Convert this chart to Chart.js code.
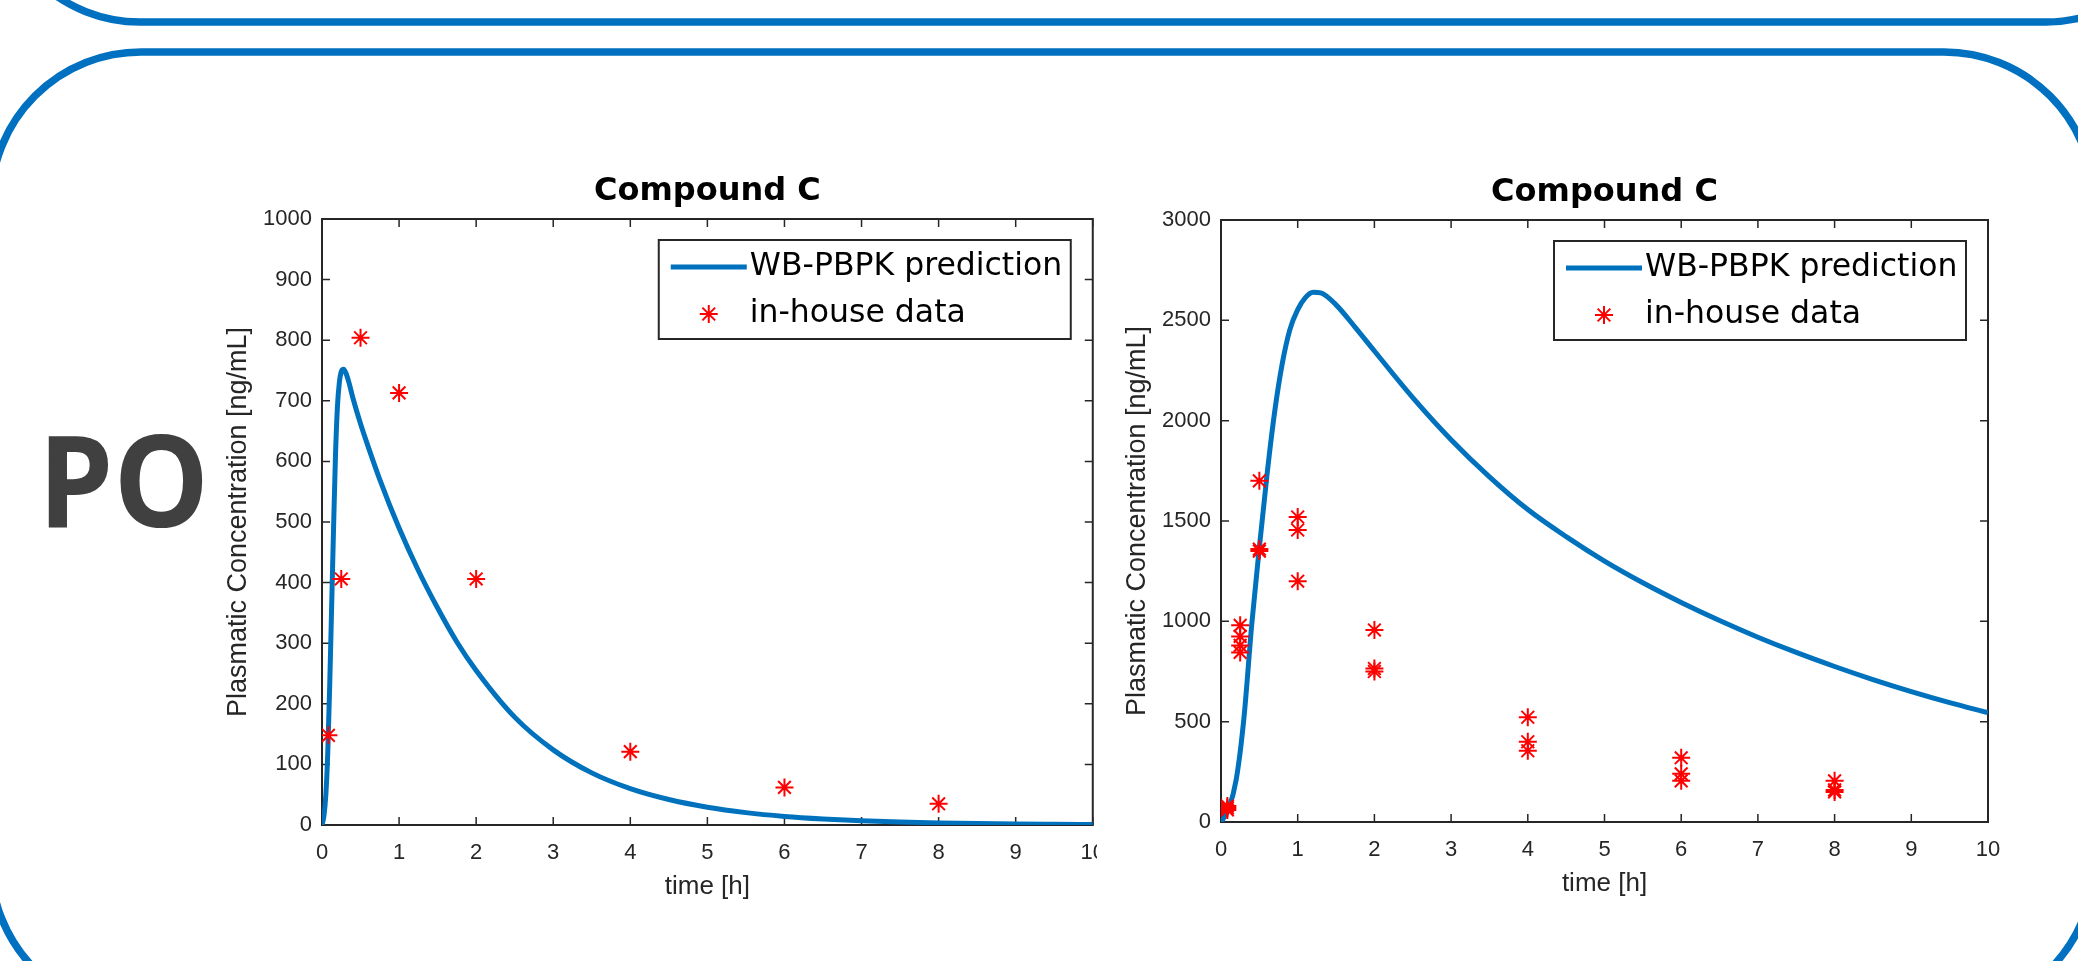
<!DOCTYPE html>
<html>
<head>
<meta charset="utf-8">
<title>Compound C - PO</title>
<script src="https://cdn.jsdelivr.net/npm/chart.js@4.4.1/dist/chart.umd.min.js"></script>
<style>
  html, body { margin: 0; padding: 0; background: #fff; }
  body { width: 2078px; height: 961px; position: relative; overflow: hidden; }
  #frame { position: absolute; left: 0; top: 0; }
  #boxA { position: absolute; left: 200px; top: 150px; width: 897px; height: 780px; overflow: hidden; }
  #boxB { position: absolute; left: 1099px; top: 151px; width: 920px; height: 776px; }
  canvas { display: block; }
</style>
</head>
<body>
<svg id="frame" width="2078" height="961">
  <rect x="-7" y="-300" width="2200" height="322" rx="147" ry="147" fill="none" stroke="#0070C0" stroke-width="7.5"/>
  <rect x="-9" y="52" width="2103" height="961" rx="150" ry="150" fill="none" stroke="#0070C0" stroke-width="7.5"/>
  <text x="38" y="527" font-family="Open Sans" font-weight="700" font-size="128" fill="#404040"
        textLength="171" lengthAdjust="spacingAndGlyphs">PO</text>
</svg>
<div id="boxA"><canvas id="chartA" width="920" height="780"></canvas></div>
<div id="boxB"><canvas id="chartB" width="920" height="776"></canvas></div>
<script>
// axis ticks
const timeTicks = [0, 1, 2, 3, 4, 5, 6, 7, 8, 9, 10];
const concTicksA = [0, 100, 200, 300, 400, 500, 600, 700, 800, 900, 1000];
const concTicksB = [0, 500, 1000, 1500, 2000, 2500, 3000];

// left panel: WB-PBPK prediction
const predTimeA = [0, 0.025, 0.05, 0.075, 0.1, 0.125, 0.15, 0.175, 0.2, 0.225, 0.25, 0.28, 0.31, 0.35, 0.4,
  0.5, 0.6, 0.75, 1, 1.25, 1.5, 1.75, 2, 2.5, 3, 3.5, 4, 4.5, 5, 5.5, 6, 6.5, 7, 7.5, 8, 8.5, 9, 9.5, 10];
const predConcA = [0, 15, 50, 120, 230, 360, 490, 610, 690, 730, 748, 752, 746, 730, 705,
  662, 624, 570, 490, 420, 358, 302, 255, 178, 124, 86, 60, 42, 29.3, 20.4, 14.2, 10, 7, 4.9, 3.5, 2.5, 1.8, 1.3, 0.9];
// left panel: in-house data
const obsTimeA = [0.083, 0.25, 0.5, 1, 2, 4, 6, 8];
const obsConcA = [148, 406, 804, 713, 406, 121, 62, 35];

// right panel: WB-PBPK prediction
const predTimeB = [0, 0.1, 0.2, 0.3, 0.4, 0.5, 0.6, 0.7, 0.8, 0.9, 1, 1.1, 1.2, 1.3, 1.5, 1.75,
  2, 2.5, 3, 3.5, 4, 4.5, 5, 5.5, 6, 6.5, 7, 7.5, 8, 8.5, 9, 9.5, 10];
const predConcB = [0, 65, 215, 522, 981, 1368, 1731, 2045, 2287, 2456, 2553, 2613, 2640, 2637, 2577, 2465,
  2347, 2115, 1905, 1720, 1557, 1422, 1300, 1192, 1094, 1004, 921, 845, 775, 710, 650, 595, 545];
// right panel: in-house data
const obsTimeB = [0.083, 0.083, 0.083, 0.25, 0.25, 0.25, 0.25, 0.5, 0.5, 0.5, 1, 1, 1,
  2, 2, 2, 4, 4, 4, 6, 6, 6, 8, 8, 8];
const obsConcB = [60, 70, 80, 980, 925, 880, 845, 1700, 1360, 1350, 1520, 1455, 1200,
  957, 765, 750, 522, 400, 355, 320, 240, 205, 205, 160, 150];

const axisColor = "#262626";
const lineBlue = "#0072BD";
const starRed = "#FF0000";

function toPoints(xs, ys) {
  return xs.map((x, i) => ({ x: x, y: ys[i] }));
}

function drawStar(ctx, x, y, r) {
  const d = r * Math.SQRT1_2;
  ctx.beginPath();
  ctx.moveTo(x - r, y); ctx.lineTo(x + r, y);
  ctx.moveTo(x, y - r); ctx.lineTo(x, y + r);
  ctx.moveTo(x - d, y - d); ctx.lineTo(x + d, y + d);
  ctx.moveTo(x - d, y + d); ctx.lineTo(x + d, y - d);
  ctx.stroke();
}

// matlab-like box, inward ticks, title and legend
const matlabBox = {
  id: "matlabBox",
  beforeDatasetsDraw(chart) {
    const { ctx, chartArea: a, scales: { x, y } } = chart;
    ctx.save();
    ctx.strokeStyle = axisColor;
    ctx.lineWidth = 1.5;
    ctx.beginPath();
    x.ticks.forEach((t) => {
      const px = x.getPixelForValue(t.value);
      ctx.moveTo(px, a.bottom); ctx.lineTo(px, a.bottom - 8);
      ctx.moveTo(px, a.top); ctx.lineTo(px, a.top + 8);
    });
    y.ticks.forEach((t) => {
      const py = y.getPixelForValue(t.value);
      ctx.moveTo(a.left, py); ctx.lineTo(a.left + 8, py);
      ctx.moveTo(a.right, py); ctx.lineTo(a.right - 8, py);
    });
    ctx.stroke();
    ctx.lineWidth = 2;
    ctx.strokeRect(a.left, a.top, a.right - a.left, a.bottom - a.top);
    ctx.restore();
  },
  afterDraw(chart, args, opts) {
    const { ctx, chartArea: a } = chart;
    ctx.save();
    // title
    ctx.fillStyle = "#000";
    ctx.font = 'bold 32px "DejaVu Sans"';
    ctx.textAlign = "center";
    ctx.textBaseline = "alphabetic";
    ctx.fillText(opts.title, (a.left + a.right) / 2, a.top - 19);

    // legend box
    const w = 412, h = 99;
    const lx = a.right - 22 - w, ly = a.top + 21;
    ctx.fillStyle = "#fff";
    ctx.fillRect(lx, ly, w, h);
    ctx.strokeStyle = axisColor;
    ctx.lineWidth = 2;
    ctx.strokeRect(lx, ly, w, h);

    const line = chart.data.datasets[0];
    const pts = chart.data.datasets[1];
    ctx.strokeStyle = line.borderColor;
    ctx.lineWidth = line.borderWidth;
    ctx.beginPath();
    ctx.moveTo(lx + 12, ly + 27);
    ctx.lineTo(lx + 88, ly + 27);
    ctx.stroke();

    ctx.strokeStyle = pts.pointBorderColor;
    ctx.lineWidth = pts.pointBorderWidth;
    drawStar(ctx, lx + 50, ly + 74, pts.pointRadius);

    ctx.fillStyle = "#000";
    ctx.font = '31.5px "DejaVu Sans"';
    ctx.textAlign = "left";
    ctx.textBaseline = "middle";
    ctx.fillText(line.label, lx + 91, ly + 27);
    ctx.fillText(pts.label, lx + 91, ly + 74);
    ctx.restore();
  },
};

function makeChart(id, predT, predC, obsT, obsC, yTicks, padRight) {
  return new Chart(document.getElementById(id), {
    type: "scatter",
    data: {
      datasets: [
        {
          label: "WB-PBPK prediction",
          data: toPoints(predT, predC),
          showLine: true,
          borderColor: lineBlue,
          borderWidth: 5,
          pointRadius: 0,
          cubicInterpolationMode: "monotone",
          order: 2,
        },
        {
          label: "in-house data",
          data: toPoints(obsT, obsC),
          showLine: false,
          pointStyle: "star",
          pointRadius: 9,
          pointBorderColor: starRed,
          pointBackgroundColor: starRed,
          pointBorderWidth: 2,
          order: 1,
        },
      ],
    },
    options: {
      responsive: false,
      animation: false,
      devicePixelRatio: 1,
      layout: { padding: { top: 69, right: padRight, left: 0, bottom: 0 } },
      plugins: {
        legend: { display: false },
        tooltip: { enabled: false },
        matlabBox: { title: "Compound C" },
      },
      scales: {
        x: {
          type: "linear",
          min: 0,
          max: 10,
          afterBuildTicks: (s) => { s.ticks = timeTicks.map((v) => ({ value: v })); },
          afterFit: (s) => { s.height = 105; },
          grid: { display: false, drawTicks: false },
          border: { display: false },
          ticks: {
            color: axisColor,
            padding: 15,
            maxRotation: 0,
            font: { family: '"Liberation Sans", Arial', size: 22 },
            callback: (v) => String(v),
          },
          title: {
            display: true,
            text: "time [h]",
            color: axisColor,
            padding: { top: 0, bottom: 28 },
            font: { family: '"Liberation Sans", Arial', size: 26 },
          },
        },
        y: {
          type: "linear",
          min: yTicks[0],
          max: yTicks[yTicks.length - 1],
          afterBuildTicks: (s) => { s.ticks = yTicks.map((v) => ({ value: v })); },
          afterFit: (s) => { s.width = 122; },
          grid: { display: false, drawTicks: false },
          border: { display: false },
          ticks: {
            color: axisColor,
            padding: 10,
            font: { family: '"Liberation Sans", Arial', size: 22 },
            callback: (v) => String(v),
          },
          title: {
            display: true,
            text: "Plasmatic Concentration [ng/mL]",
            color: axisColor,
            padding: { top: 22, bottom: 0 },
            font: { family: '"Liberation Sans", Arial', size: 27 },
          },
        },
      },
    },
    plugins: [matlabBox],
  });
}

makeChart("chartA", predTimeA, predConcA, obsTimeA, obsConcA, concTicksA, 26);
makeChart("chartB", predTimeB, predConcB, obsTimeB, obsConcB, concTicksB, 31);
</script>
</body>
</html>
